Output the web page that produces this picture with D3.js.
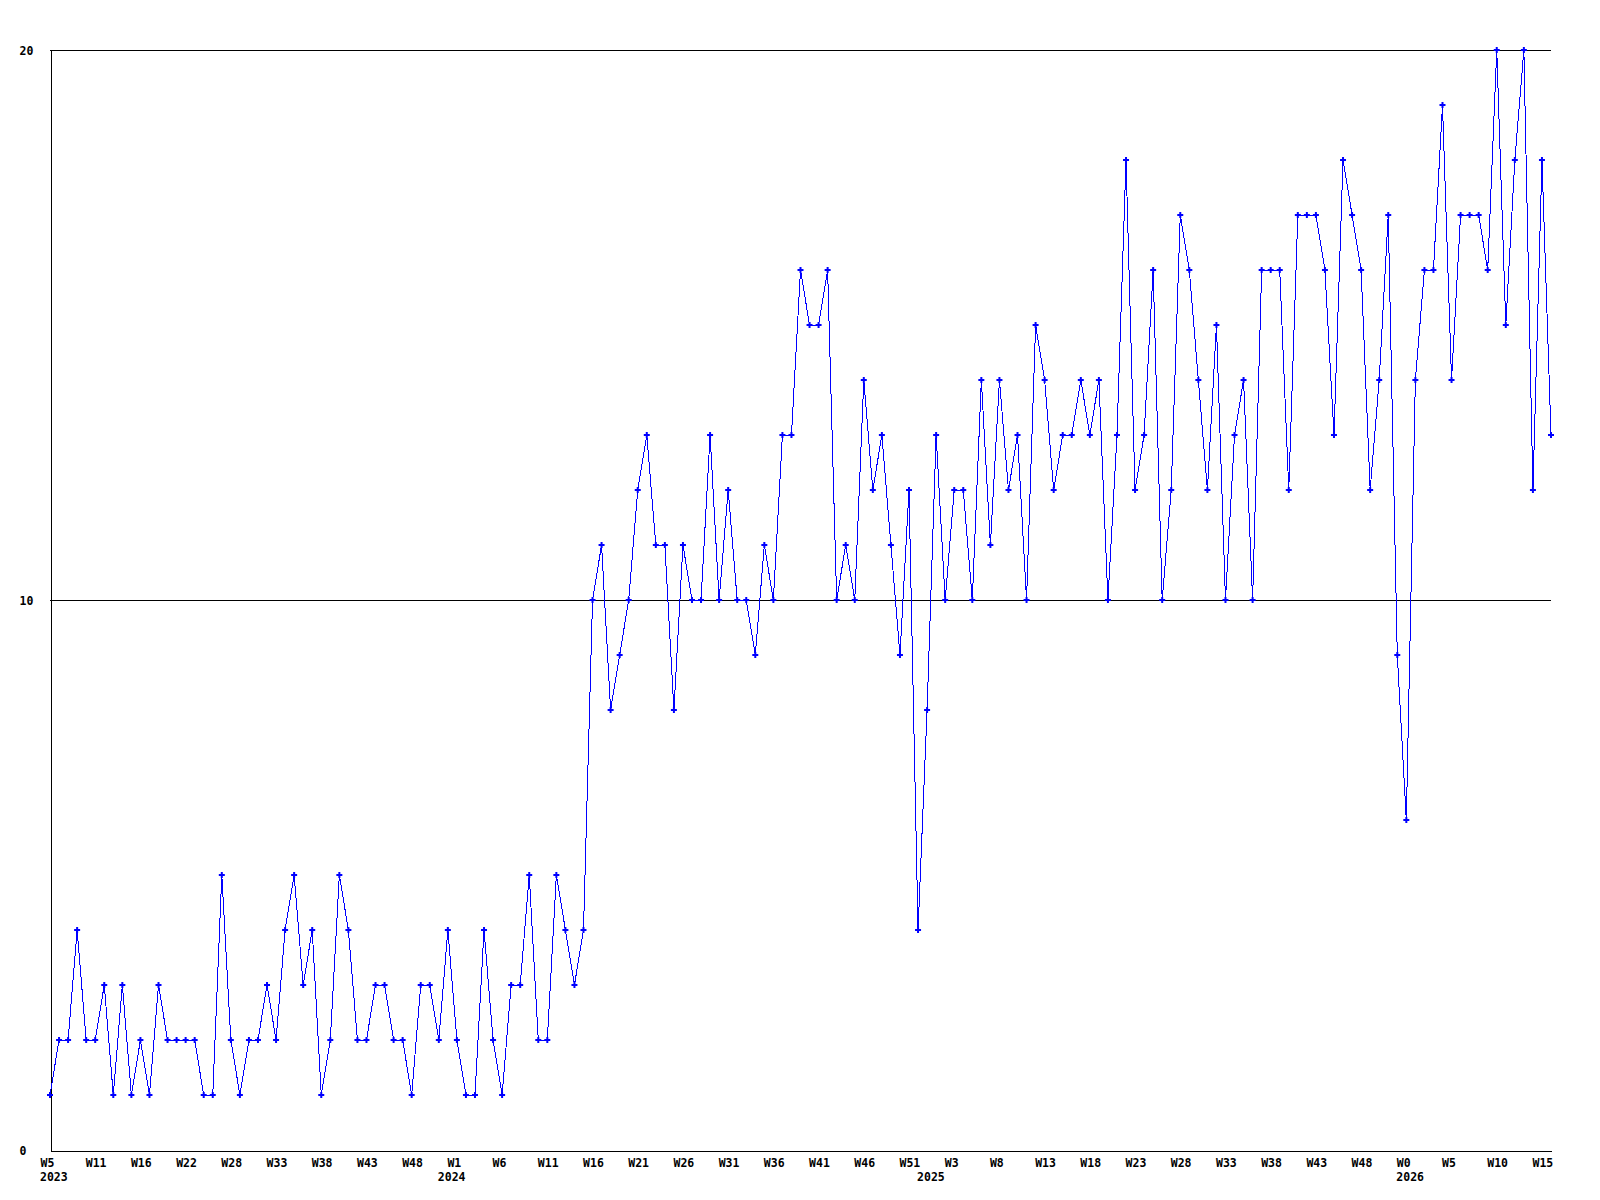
<!DOCTYPE html>
<html>
<head>
<meta charset="utf-8">
<script src="https://cdn.jsdelivr.net/npm/d3@7"></script>
<style>
    body { margin: 0; background: #fff; }
    svg { display: block; }
    .tick text, .label { font-family: "DejaVu Sans Mono", monospace; font-weight: bold; font-size: 11.5px; fill: #000; }
</style>
</head>
<body>
<div id="chart"></div>
<script>
// weekly counts, one value per point
const values = [
    1, 2, 2, 4, 2, 2, 3, 1, 3, 1,
    2, 1, 3, 2, 2, 2, 2, 1, 1, 5,
    2, 1, 2, 2, 3, 2, 4, 5, 3, 4,
    1, 2, 5, 4, 2, 2, 3, 3, 2, 2,
    1, 3, 3, 2, 4, 2, 1, 1, 4, 2,
    1, 3, 3, 5, 2, 2, 5, 4, 3, 4,
    10, 11, 8, 9, 10, 12, 13, 11, 11, 8,
    11, 10, 10, 13, 10, 12, 10, 10, 9, 11,
    10, 13, 13, 16, 15, 15, 16, 10, 11, 10,
    14, 12, 13, 11, 9, 12, 4, 8, 13, 10,
    12, 12, 10, 14, 11, 14, 12, 13, 10, 15,
    14, 12, 13, 13, 14, 13, 14, 10, 13, 18,
    12, 13, 16, 10, 12, 17, 16, 14, 12, 15,
    10, 13, 14, 10, 16, 16, 16, 12, 17, 17,
    17, 16, 13, 18, 17, 16, 12, 14, 17, 9,
    6, 14, 16, 16, 19, 14, 17, 17, 17, 16,
    20, 15, 18, 20, 12, 18, 13
];

// one week label every 5 points
const labelEvery = 5;
const weekLabels = [
    "W5", "W11", "W16", "W22", "W28", "W33", "W38", "W43", "W48",
    "W1", "W6", "W11", "W16", "W21", "W26", "W31", "W36", "W41", "W46", "W51",
    "W3", "W8", "W13", "W18", "W23", "W28", "W33", "W38", "W43", "W48",
    "W0", "W5", "W10", "W15"
];

// year labels and the point where each year starts
const yearLabels = ["2023", "2024", "2025", "2026"];
const yearStarts = [0, 44, 97, 150];

const yTicks = [0, 10, 20];

const width = 1600, height = 1200;
const padding = { l: 50, r: 49, t: 50, b: 50 };

const x = d3.scaleLinear()
    .domain([0, values.length - 1])
    .range([padding.l, width - padding.r]);

const y = d3.scaleLinear()
    .domain([0, 20])
    .range([height - padding.b, padding.t]);

const svg = d3.select("#chart")
    .append("svg")
    .attr("width", width)
    .attr("height", height);

// horizontal grid lines
svg.append("g")
    .selectAll("line")
    .data(yTicks.filter(d => d > 0))
    .join("line")
    .attr("x1", padding.l)
    .attr("x2", width - padding.r)
    .attr("y1", d => Math.round(y(d)) + 0.5)
    .attr("y2", d => Math.round(y(d)) + 0.5)
    .attr("stroke", "#000")
    .attr("shape-rendering", "crispEdges");

const yAxis = svg.append("g")
    .attr("transform", `translate(${padding.l + 0.5}, 0.5)`)
    .call(d3.axisLeft(y).tickValues(yTicks).tickSize(0).tickFormat(d3.format("d")));

yAxis.select(".domain").attr("stroke", "#000").attr("shape-rendering", "crispEdges");
yAxis.selectAll(".tick text")
    .attr("text-anchor", "start")
    .attr("x", 19 - padding.l)
    .attr("dy", "0.35em");

const tickIndex = weekLabels.map((_, i) => i * labelEvery);

const xAxis = svg.append("g")
    .attr("transform", `translate(0.5, ${height - padding.b + 0.5})`)
    .call(d3.axisBottom(x).tickValues(tickIndex).tickSize(0).tickFormat((d, i) => weekLabels[i]));

xAxis.select(".domain").attr("stroke", "#000").attr("shape-rendering", "crispEdges");
xAxis.selectAll(".tick text")
    .attr("text-anchor", "start")
    .attr("x", -10.5)
    .attr("y", 16)
    .attr("dy", null);

svg.append("g")
    .selectAll("text")
    .data(yearLabels)
    .join("text")
    .attr("class", "label")
    .attr("x", (d, i) => x(yearStarts[i]) - 10)
    .attr("y", height - padding.b + 31)
    .text(d => d);

const line = d3.line()
    .x((d, i) => x(i))
    .y(d => y(d));

svg.append("path")
    .datum(values)
    .attr("fill", "none")
    .attr("stroke", "#0000ff")
    .attr("stroke-width", 1)
    .attr("shape-rendering", "crispEdges")
    .attr("d", line);

const marker = d3.symbol().type(d3.symbolCross).size(20);

svg.append("g")
    .selectAll("path")
    .data(values)
    .join("path")
    .attr("transform", (d, i) => `translate(${x(i)}, ${y(d)})`)
    .attr("fill", "#0000ff")
    .attr("d", marker);
</script>
</body>
</html>
